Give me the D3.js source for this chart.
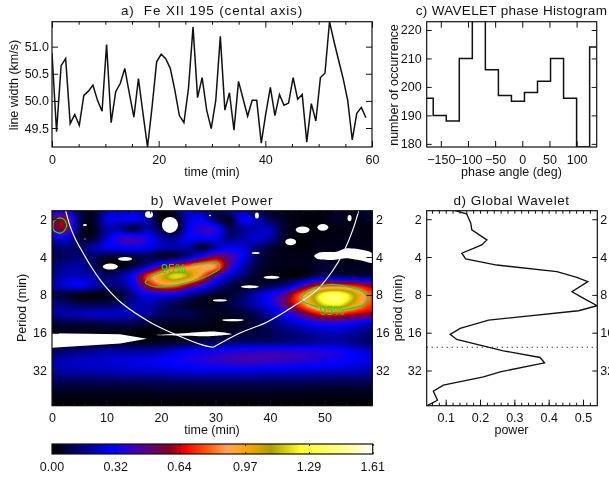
<!DOCTYPE html>
<html><head><meta charset="utf-8">
<script src="https://cdn.jsdelivr.net/npm/d3@7/dist/d3.min.js"></script>
<style>
html,body{margin:0;padding:0;background:#fff;overflow:hidden}
#wrap{position:relative;width:609px;height:478px}
canvas,svg{position:absolute;left:0;top:0}
text{font-family:"Liberation Sans",sans-serif;fill:#111}
</style></head><body><div id="wrap"></div>
<script>
// ---- panel a: line width series (one sample every 0.85 min)
const sampleStep = 0.853;
const lineWidth = [50.88,49.43,50.65,50.78,49.58,49.75,49.55,50.10,50.18,50.29,50.01,49.81,51.04,49.60,50.17,50.32,50.60,50.14,49.70,50.41,49.77,49.15,49.89,50.72,50.86,50.78,50.60,50.20,49.73,49.60,50.23,51.36,50.06,50.43,49.83,49.49,50.01,51.19,49.83,50.15,49.46,50.36,50.04,49.72,50.01,50.01,49.22,49.77,50.25,49.73,50.12,49.92,49.96,50.43,50.03,50.12,49.24,49.95,49.63,50.43,50.51,51.46,51.09,50.75,50.41,50.01,49.28,49.77,49.88,49.69];
// ---- panel c: phase histogram
const phaseEdges = [-188,-164,-140,-116,-92,-68,-44,-20,4,28,52,76,100,124,148];
const phaseCounts = [196,190,188,210,232,206,197,195,198,202,210,196,178.9,214];
// ---- panel d: global wavelet
const globalPower = [.127,.161,.173,.176,.22,.205,.147,.158,.249,.424,.482,.514,.468,.502,.541,.487,.225,.142,.113,.132,.2,.268,.375,.388,.259,.21,.093,.064,.076,.045];
const globalPeriod = [1.71,1.81,2.15,2.43,2.92,3.2,3.73,4.14,4.63,5.23,5.8,6.28,7.55,8.53,9.76,10.7,12.7,14.8,16.5,18.1,20.1,22.3,25.2,27.8,32.8,36,41.9,46.8,55.2,61.2];
const significancePeriod = 20.9;
// ---- panel b: wavelet power read on a coarse grid
const gridTimes = [0,2.5,5,7.5,10,12.5,15,17.5,20,22.5,25,27.5,30,32.5,35,37.5,40,42.5,45,47.5,50,52.5,55,57.5,60];
const gridLog2Period = [.75,1,1.25,1.5,1.75,2,2.25,2.5,2.75,3,3.25,3.5,3.75,4,4.25,4.5,4.75,5,5.25,5.5,5.75,6];
const powerGrid = [
[.25,.3,.1,.05,.22,.25,.25,.18,.02,.1,.25,.2,.1,.2,.2,.1,.04,.04,.02,.02,.02,.04,.02,.08,.08],
[.5,.56,.12,.04,.26,.28,.3,.2,.02,.02,.25,.3,.12,.05,.3,.22,.1,.04,.02,.01,.02,.05,.02,.04,.04],
[.5,.56,.1,.03,.2,.18,.08,.2,.08,0,.28,.38,.36,.12,.18,.22,.22,.06,.02,.02,.02,.02,.02,.02,.02],
[.25,.28,.08,.06,.24,.38,.4,.34,.2,.18,.3,.3,.3,.16,.2,.25,.2,.05,.01,.02,.02,.02,.03,.02,.02],
[.12,.15,.12,.2,.28,.3,.32,.28,.22,.2,.2,.07,.2,.3,.26,.14,.07,.03,.01,.02,.03,.04,.03,.03,.03],
[.1,.12,.14,.12,.06,.05,.07,.1,.05,.08,.2,.4,.55,.45,.3,.12,.05,.03,.03,.03,.05,.03,.02,.02,.02],
[.14,.18,.2,.12,.03,.03,.1,.22,.5,.7,.82,.9,.85,.45,.22,.08,.04,.03,.03,.04,.06,.05,.04,.04,.04],
[.16,.22,.22,.2,.12,.18,.35,.72,1,1.2,1.1,.8,.45,.25,.14,.05,.02,.02,.02,.08,.15,.12,.1,.1,.1],
[.2,.26,.3,.22,.16,.16,.3,.6,.8,.8,.6,.4,.22,.1,.04,.06,.1,.15,.32,.55,.72,.75,.7,.6,.5],
[.1,.06,.03,.02,.03,.06,.18,.3,.3,.28,.18,.1,.05,.06,.12,.22,.32,.45,.72,1,1.3,1.35,1.15,.85,.7],
[.16,.14,.1,.1,.1,.14,.2,.22,.16,.1,.06,.03,.04,.08,.14,.22,.32,.48,.7,.95,1.2,1.25,1.05,.8,.7],
[.18,.2,.22,.24,.24,.24,.22,.18,.12,.1,.1,.06,.04,.04,.06,.12,.2,.3,.44,.6,.72,.72,.65,.6,.55],
[.06,.08,.08,.08,.1,.1,.1,.06,.05,.04,.04,.04,.02,.02,.05,.08,.14,.2,.26,.32,.36,.36,.32,.26,.22],
[.03,.03,.03,.03,.03,.02,.01,.01,.01,.01,.01,.02,.03,.05,.07,.08,.1,.14,.16,.2,.22,.22,.2,.16,.14],
[.04,.04,.04,.04,.04,.04,.04,.04,.05,.06,.07,.09,.12,.13,.14,.14,.14,.15,.17,.18,.2,.2,.17,.14,.12],
[.12,.14,.16,.18,.2,.2,.2,.2,.22,.26,.3,.32,.34,.36,.37,.38,.39,.39,.38,.37,.36,.34,.3,.26,.24],
[.2,.22,.24,.24,.25,.26,.27,.28,.3,.32,.34,.36,.38,.4,.41,.41,.4,.39,.38,.36,.34,.32,.3,.28,.26],
[.2,.2,.21,.22,.22,.23,.24,.24,.25,.26,.27,.28,.28,.28,.28,.27,.26,.26,.25,.25,.24,.24,.23,.22,.22],
[.12,.12,.12,.12,.12,.13,.13,.13,.13,.14,.14,.14,.14,.14,.14,.14,.13,.13,.13,.13,.12,.12,.12,.12,.12],
[.05,.05,.05,.05,.05,.05,.05,.05,.06,.06,.06,.06,.06,.06,.06,.06,.06,.06,.06,.05,.05,.05,.05,.05,.05],
[.02,.02,.02,.02,.02,.02,.02,.02,.02,.02,.02,.02,.02,.02,.02,.02,.02,.02,.02,.02,.02,.02,.02,.02,.02],
[0,0,0,0,0,0,0,0,0,0,0,0,0,0,0,0,0,0,0,0,0,0,0,0,0]];
// colour table of the power image
const colorStops = [0,.31,.43,.59,.67,.77,.88,.98,1.10,1.25,1.46,1.61];
const colorValues = ["#000000","#0000ff","#4600aa","#82001e","#ff0000","#ff5000","#ffa55a","#ffa500","#aaa000","#ffff28","#ffff8c","#ffffff"];
const colorbarTicks = ["0.00","0.32","0.64","0.97","1.29","1.61"];
// out-of-range (white) patches: [time, period, half-width in min, half-height in octaves]
const whiteSpots = [[17.8,1.83,.73,.09],[21.65,2.22,1.47,.21],[29,1.87,.22,.02],[37.6,1.87,.37,.08],[54.6,1.96,.37,.08],[46,2.43,1.28,.09],[49.7,2.32,1,.09],[43.8,3.03,1,.09],[37.4,3.71,.73,.027],[40.3,5.8,1.47,.04],[36.3,6.89,1.65,.04],[30.8,8.85,1.28,.03],[33.2,12.7,2,.03],[10.7,4.76,1.38,.08],[13.4,4.14,1.28,.05],[6.05,2.22,.37,.027],[6.05,2.87,.18,.013]];
const whiteBandLeft = [[0,16.2],[12.5,16.5],[17.4,17.9],[12.5,19.5],[0,21.1]];
const whiteBandMid = [[19.5,16.65],[29,15.64],[31.4,15.9],[33,16.5],[29,17.07],[19.5,16.75]];
const whiteBandRight = [[48.1,3.92],[49.2,3.67],[52.2,3.63],[54.1,3.41],[57.1,3.51],[58.8,3.73],[58.8,4.44],[57.1,4.29],[54.1,4.09],[51.6,4.22],[48.9,4.17]];
// 95% contours
const contourA = [[.24,2.08],[1.47,1.95],[2.4,2.05],[2.7,2.27],[2.07,2.52],[1.16,2.57],[.24,2.42],[.24,2.08]];
const contourB = [[25.6,4.6],[30,4.38],[30.8,4.74],[30.2,5.19],[26.8,6.06],[22.6,6.72],[18.9,6.89],[17.1,6.38],[18.4,5.66],[20.4,5.22]];
const contourC = [[53.2,10.6],[57.1,9.65],[58,8.53],[56.5,7.33],[51.6,6.6],[47.9,7.1],[45.8,8.28],[46.1,9.08],[48.9,10.06]];
const contourLabels = [[22.3,4.95],[51.4,10.7]];
// cone of influence
const coiLeft = [[2.5,1.71],[3.3,2.26],[4.2,2.82],[5.5,3.58],[7,4.63],[8.8,6.04],[10.6,7.5],[13,9.47],[18,13.2],[22.9,16.7],[27.7,20.1],[29.6,20.9]];
const coiRight = [[29.6,20.9],[34.5,16.1],[39.4,13.2],[44.2,9.95],[48.6,7.33],[51.6,5.07],[53.4,3.73],[55.2,2.43],[56.3,1.71]];
const periodTicks = [2,4,8,16,32];

const W=609,H=478,GREEN="#10e020";
const wrap=d3.select("#wrap");
const canvas=wrap.append("canvas").attr("width",W).attr("height",H).node();
const svg=wrap.append("svg").attr("width",W).attr("height",H);
const FS=12.5;
function lab(x,y,s,opt={}){
  const t=svg.append("text").attr("x",x).attr("y",y).attr("text-anchor","middle").attr("font-size",opt.size||FS).text(s);
  if(opt.rot) t.attr("transform",`rotate(-90 ${x} ${y})`);
  if(opt.ls) t.attr("letter-spacing",opt.ls);
  if(opt.fill) t.style("fill",opt.fill);
  return t;
}
function frame(x0,x1,y0,y1){
  svg.append("rect").attr("x",x0).attr("y",y0).attr("width",x1-x0).attr("height",y1-y0)
    .attr("fill","none").attr("stroke","#111").attr("stroke-width",1.2);
}
function style(g){g.select(".domain").remove();g.selectAll("line").attr("stroke","#111");g.selectAll("text").attr("font-size",FS).style("fill","#111")}
function axis(gen,tx,ty){return svg.append("g").attr("transform",`translate(${tx},${ty})`).call(gen).call(style)}
function clip(id,x0,x1,y0,y1){svg.append("clipPath").attr("id",id).append("rect").attr("x",x0).attr("y",y0).attr("width",x1-x0).attr("height",y1-y0)}

// ========== panel a
const ax=d3.scaleLinear().domain([0,60]).range([52,372]);
const ay=d3.scaleLinear().domain([49.15,51.46]).range([147,21.7]);
clip("ca",52,372,21.7,147);
svg.append("path").attr("clip-path","url(#ca)").attr("fill","none").attr("stroke","#111").attr("stroke-width",1.5)
  .attr("d",d3.line().x((d,i)=>ax(i*sampleStep)).y(d=>ay(d))(lineWidth));
const aMinor=[5,10,15,25,30,35,45,50,55];
axis(d3.axisBottom(ax).tickValues([0,20,40,60]).tickSize(-6).tickPadding(8).tickFormat(d3.format("d")),0,147);
axis(d3.axisBottom(ax).tickValues(aMinor).tickSize(-3).tickFormat(""),0,147);
axis(d3.axisTop(ax).tickValues([0,20,40,60]).tickSize(-6).tickFormat(""),0,21.7);
axis(d3.axisTop(ax).tickValues(aMinor).tickSize(-3).tickFormat(""),0,21.7);
axis(d3.axisLeft(ay).tickValues([49.5,50,50.5,51]).tickSize(-6).tickPadding(3).tickFormat(d3.format(".1f")),52,0);
axis(d3.axisRight(ay).tickValues([49.5,50,50.5,51]).tickSize(-6).tickFormat(""),372,0);
frame(52,372,21.7,147);
lab(212,15,"a)\u00a0\u00a0Fe XII 195 (cental axis)",{size:13.5,ls:.85});
lab(212,176,"time (min)");
lab(18,85,"line width (km/s)",{rot:1});

// ========== panel c
const cx=d3.scaleLinear().domain([-176,137]).range([426.7,596.7]);
const cy=d3.scaleLinear().domain([178.9,222.9]).range([147,21.7]);
clip("cc",426.7,596.7,21.7,147);
const stepPts=phaseCounts.map((c,i)=>[phaseEdges[i],c]).concat([[phaseEdges[phaseEdges.length-1],phaseCounts[phaseCounts.length-1]]]);
svg.append("path").attr("clip-path","url(#cc)").attr("fill","none").attr("stroke","#111").attr("stroke-width",1.5)
  .attr("d",d3.line().curve(d3.curveStepAfter).x(d=>cx(d[0])).y(d=>cy(d[1]))(stepPts));
const cxt=[-150,-100,-50,0,50,100];
axis(d3.axisBottom(cx).tickValues(cxt).tickSize(-6).tickPadding(8).tickFormat(d=>String(d).replace("-","\u2212")),0,147);
axis(d3.axisTop(cx).tickValues(cxt).tickSize(-6).tickFormat(""),0,21.7);
axis(d3.axisLeft(cy).tickValues([180,190,200,210,220]).tickSize(-5).tickPadding(5).tickFormat(d3.format("d")),426.7,0);
axis(d3.axisRight(cy).tickValues([180,190,200,210,220]).tickSize(-5).tickFormat(""),596.7,0);
frame(426.7,596.7,21.7,147);
lab(511.5,15,"c) WAVELET phase Histogram",{size:13.5,ls:.3});
lab(511.5,176,"phase angle (deg)");
lab(398,85,"number of occurrence",{rot:1});

// ========== panel b
const bx=d3.scaleLinear().domain([0,58.8]).range([52,372.4]);
const by=d3.scaleLog().base(2).domain([1.71,61]).range([210.7,405.7]);
const color=d3.scaleLinear().domain(colorStops).range(colorValues).clamp(true);
function cr(p0,p1,p2,p3,t){return .5*((2*p1)+(-p0+p2)*t+(2*p0-5*p1+4*p2-p3)*t*t+(-p0+3*p1-3*p2+p3)*t*t*t)}
function field(t,l){
  const fx=Math.max(0,Math.min(gridTimes.length-1.001,(t-gridTimes[0])/(gridTimes[1]-gridTimes[0])));
  const fy=Math.max(0,Math.min(gridLog2Period.length-1.001,(l-gridLog2Period[0])/(gridLog2Period[1]-gridLog2Period[0])));
  const i=Math.floor(fx),j=Math.floor(fy),u=fx-i,v=fy-j;
  const gv=(r,c)=>powerGrid[Math.max(0,Math.min(powerGrid.length-1,r))][Math.max(0,Math.min(gridTimes.length-1,c))];
  const rows=[-1,0,1,2].map(d=>cr(gv(j+d,i-1),gv(j+d,i),gv(j+d,i+1),gv(j+d,i+2),u));
  return Math.max(0,cr(rows[0],rows[1],rows[2],rows[3],v));
}
const ctx=canvas.getContext("2d");
ctx.fillStyle="#fff";ctx.fillRect(0,0,W,H);
for(let px=52;px<372;px++)for(let py=211;py<406;py++){
  ctx.fillStyle=color(field(bx.invert(px+.5),Math.log2(by.invert(py+.5))));
  ctx.fillRect(px,py,1,1);
}
// colour bar
const barX=d3.scaleLinear().domain([0,1.61]).range([52,372.7]);
for(let px=52;px<373;px++){ctx.fillStyle=color(barX.invert(px+.5));ctx.fillRect(px,444,1,10)}

clip("cb",52,372.4,210.7,405.7);
const bPlot=svg.append("g").attr("clip-path","url(#cb)");
const pathXY=d3.line().x(d=>bx(d[0])).y(d=>by(d[1]));
bPlot.selectAll("ellipse").data(whiteSpots).join("ellipse")
  .attr("cx",d=>bx(d[0])).attr("cy",d=>by(d[1]))
  .attr("rx",d=>bx(d[2])-bx(0)).attr("ry",d=>by(d[1]*Math.pow(2,d[3]))-by(d[1]))
  .attr("fill","#fff");
bPlot.append("path").attr("fill","#fff").attr("d",pathXY.curve(d3.curveLinearClosed)(whiteBandLeft));
bPlot.append("path").attr("fill","#fff").attr("d",pathXY.curve(d3.curveCardinalClosed.tension(.6))(whiteBandMid));
bPlot.append("path").attr("fill","#fff").attr("d",pathXY.curve(d3.curveCardinalClosed.tension(.3))(whiteBandRight));
for(const seg of [coiLeft,coiRight])
  bPlot.append("path").attr("fill","none").attr("stroke","#fff").attr("stroke-width",1.2).attr("d",pathXY.curve(d3.curveCatmullRom)(seg));
for(const c of [contourA,contourB,contourC])
  bPlot.append("path").attr("fill","none").attr("stroke",GREEN).attr("stroke-width",1.2).attr("d",pathXY.curve(d3.curveCardinal.tension(.3))(c));
contourLabels.forEach(d=>{
  bPlot.append("text").attr("x",bx(d[0])).attr("y",by(d[1])).attr("dy",".36em").attr("text-anchor","middle")
    .attr("font-size",12.5).style("fill",GREEN).text("95%");
});
const bMinor=d3.range(0,59,2);
axis(d3.axisTop(bx).tickValues(bMinor).tickSize(-3).tickFormat(""),0,210.7);
axis(d3.axisBottom(bx).tickValues(bMinor).tickSize(-3).tickFormat(""),0,405.7);
axis(d3.axisBottom(bx).tickValues([0,10,20,30,40,50]).tickSize(-6).tickPadding(7).tickFormat(d3.format("d")),0,405.7);
axis(d3.axisLeft(by).tickValues(periodTicks).tickSize(-7).tickPadding(5).tickFormat(d3.format("d")),52,0);
axis(d3.axisRight(by).tickValues(periodTicks).tickSize(-6).tickPadding(3.5).tickFormat(d3.format("d")),372.4,0);
frame(52,372.4,210.7,405.7);
lab(212,205,"b)\u00a0\u00a0Wavelet Power",{size:13.5,ls:.75});
lab(212,434,"time (min)");
lab(26,308,"Period (min)",{rot:1});
lab(402,308,"period (min)",{rot:1});

// colour bar frame & ticks
axis(d3.axisBottom(barX).tickValues(colorbarTicks.map(Number)).tickSize(-2).tickFormat(""),0,454);
axis(d3.axisTop(barX).tickValues(colorbarTicks.map(Number)).tickSize(-2).tickFormat(""),0,444);
svg.selectAll(".cbl").data(colorbarTicks).join("text").attr("class","cbl")
  .attr("x",d=>barX(+d)).attr("y",470.5).attr("text-anchor","middle").attr("font-size",FS).text(d=>d);
frame(52,372.7,444,454);

// ========== panel d
const dx=d3.scaleLinear().domain([.0446,.5417]).range([426.7,597.3]);
const dy=d3.scaleLog().base(2).domain([1.71,61]).range([210.7,405.7]);
clip("cd",426.7,597.3,210.7,405.7);
svg.append("path").attr("clip-path","url(#cd)").attr("fill","none").attr("stroke","#111").attr("stroke-width",1.35)
  .attr("d",d3.line().x((d,i)=>dx(d)).y((d,i)=>dy(globalPeriod[i]))(globalPower));
svg.append("line").attr("x1",426.7).attr("x2",597.3).attr("y1",dy(significancePeriod)).attr("y2",dy(significancePeriod))
  .attr("stroke","#222").attr("stroke-width",1.2).attr("stroke-dasharray","1.2 3.8");
const dMinor=d3.range(.06,.54,.02);
axis(d3.axisBottom(dx).tickValues(dMinor).tickSize(-3).tickFormat(""),0,405.7);
axis(d3.axisTop(dx).tickValues(dMinor).tickSize(-3).tickFormat(""),0,210.7);
axis(d3.axisBottom(dx).tickValues([.1,.2,.3,.4,.5]).tickSize(-6).tickPadding(7).tickFormat(d3.format(".1f")),0,405.7);
axis(d3.axisLeft(dy).tickValues(periodTicks).tickSize(-5).tickPadding(5).tickFormat(d3.format("d")),426.7,0);
axis(d3.axisRight(dy).tickValues(periodTicks).tickSize(-5).tickPadding(3).tickFormat(d3.format("d")),597.3,0);
frame(426.7,597.3,210.7,405.7);
lab(511.5,205,"d) Global Wavelet",{size:13.5,ls:.55});
lab(511.5,434,"power");
</script></body></html>
